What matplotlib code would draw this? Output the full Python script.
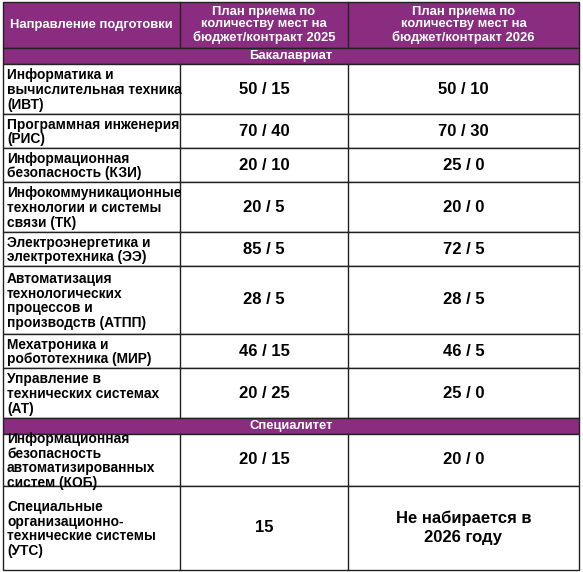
import matplotlib
matplotlib.use("Agg")
import matplotlib.pyplot as plt
from matplotlib.patches import Rectangle

plt.rcParams['font.family'] = ['Liberation Sans', 'DejaVu Sans']

header = ["Направление подготовки",
          "План приема по\nколичеству мест на\nбюджет/контракт 2025",
          "План приема по\nколичеству мест на\nбюджет/контракт 2026"]
sections = ["Бакалавриат", "Специалитет"]
directions = [
    "Информатика и\nвычислительная техника\n(ИВТ)",
    "Программная инженерия\n(РИС)",
    "Информационная\nбезопасность (КЗИ)",
    "Инфокоммуникационные\nтехнологии и системы\nсвязи (ТК)",
    "Электроэнергетика и\nэлектротехника (ЭЭ)",
    "Автоматизация\nтехнологических\nпроцессов и\nпроизводств (АТПП)",
    "Мехатроника и\nробототехника (МИР)",
    "Управление в\nтехнических системах\n(АТ)",
    "Информационная\nбезопасность\nавтоматизированных\nсистем (КОБ)",
    "Специальные\nорганизационно-\nтехнические системы\n(УТС)",
]
plan2025 = ["50 / 15", "70 / 40", "20 / 10", "20 / 5", "85 / 5", "28 / 5",
            "46 / 15", "20 / 25", "20 / 15", "15"]
plan2026 = ["50 / 10", "70 / 30", "25 / 0", "20 / 0", "72 / 5", "28 / 5",
            "46 / 5", "25 / 0", "20 / 0", "Не набирается в\n2026 году"]
section_of = [0]*8 + [1]*2

W, H = 583, 572
fig = plt.figure(figsize=(W/100, H/100), dpi=100)
ax = fig.add_axes([0, 0, 1, 1])
ax.set_xlim(0, W); ax.set_ylim(H, 0); ax.axis('off')

purple = '#8A2D80'
xs = [3, 180, 348, 579]
row_h = [50, 34, 34, 50, 34, 68, 34, 50, 52, 84]
y = 2
lw = 1.0
ec = '#222222'
ax.add_patch(Rectangle((xs[0], y), xs[3]-xs[0], 46, facecolor=purple, edgecolor=ec, lw=lw))
for i in range(3):
    ax.text((xs[i]+xs[i+1])/2, y+23, header[i], ha='center', va='center', color='white',
            fontsize=9.4, fontweight='bold', linespacing=1.08)
    if i > 0:
        ax.plot([xs[i], xs[i]], [y, y+46], color=ec, lw=lw)
y += 46
prev = None
for k, d in enumerate(directions):
    if section_of[k] != prev:
        prev = section_of[k]
        ax.add_patch(Rectangle((xs[0], y), xs[3]-xs[0], 16, facecolor=purple, edgecolor=ec, lw=lw))
        ax.text((xs[0]+xs[3])/2, y+8, sections[prev], ha='center', va='center', color='white',
                fontsize=9.4, fontweight='bold')
        y += 16
    h = row_h[k]
    ax.add_patch(Rectangle((xs[0], y), xs[3]-xs[0], h, facecolor='white', edgecolor=ec, lw=lw))
    for xx in xs[1:3]:
        ax.plot([xx, xx], [y, y+h], color=ec, lw=lw)
    ax.text(xs[0]+4, y+h/2+1, d, ha='left', va='center', fontsize=9.9, fontweight='bold', linespacing=1.08)
    ax.text((xs[1]+xs[2])/2, y+h/2, plan2025[k], ha='center', va='center', fontsize=12, fontweight='bold')
    ax.text((xs[2]+xs[3])/2, y+h/2, plan2026[k], ha='center', va='center', fontsize=12,
            fontweight='bold', linespacing=1.3)
    y += h

fig.savefig("out.png", dpi=100)
